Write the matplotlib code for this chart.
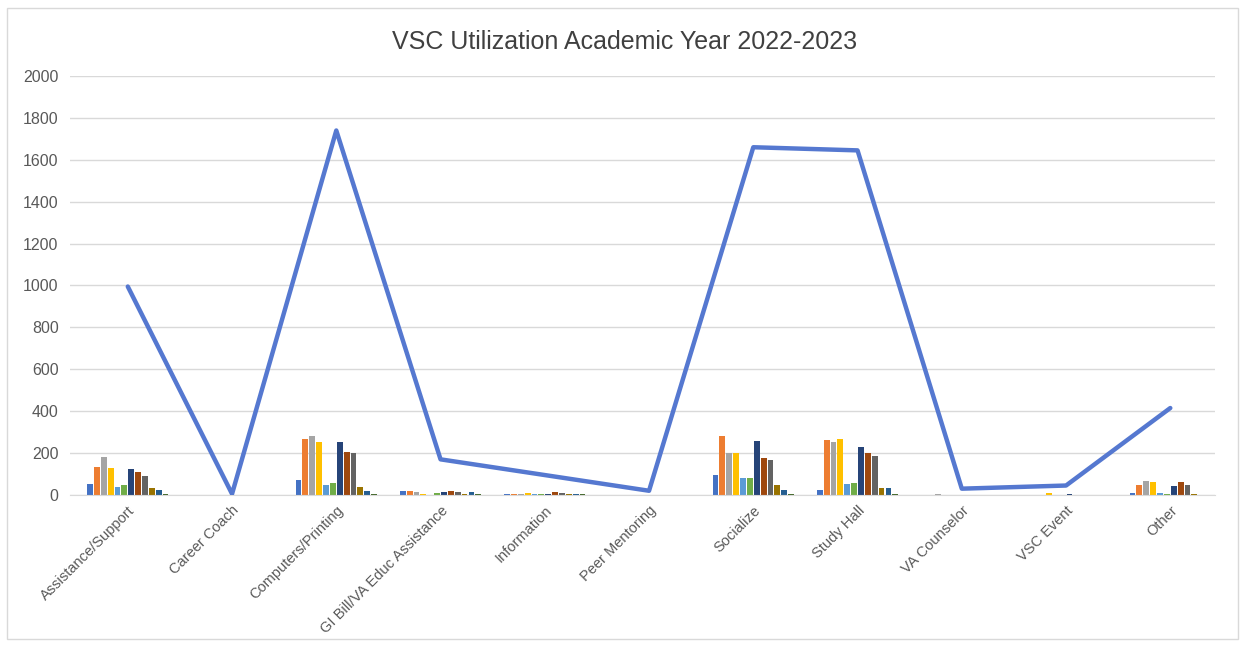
import matplotlib.pyplot as plt
import numpy as np

plt.rcParams['font.family'] = ['Liberation Sans', 'DejaVu Sans']

categories = ['Assistance/Support', 'Career Coach', 'Computers/Printing',
              'GI Bill/VA Educ Assistance', 'Information', 'Peer Mentoring',
              'Socialize', 'Study Hall', 'VA Counselor', 'VSC Event', 'Other']

# monthly counts per category (12 series)
months = ['Aug', 'Sep', 'Oct', 'Nov', 'Dec', 'Jan', 'Feb', 'Mar', 'Apr', 'May', 'Jun', 'Jul']
counts = {
    'Aug': [52, 0, 71, 20, 5, 1, 95, 24, 0, 0, 8],
    'Sep': [133, 0, 267, 18, 6, 2, 281, 262, 0, 0, 48],
    'Oct': [183, 0, 281, 15, 5, 1, 200, 254, 3, 0, 67],
    'Nov': [128, 0, 254, 5, 8, 0, 202, 267, 0, 10, 63],
    'Dec': [38, 0, 48, 0, 3, 1, 79, 52, 0, 0, 8],
    'Jan': [48, 0, 57, 10, 5, 1, 79, 59, 0, 0, 3],
    'Feb': [124, 0, 254, 12, 4, 2, 257, 230, 0, 5, 45],
    'Mar': [110, 0, 206, 18, 12, 1, 178, 202, 0, 0, 63],
    'Apr': [90, 0, 200, 15, 8, 2, 167, 186, 0, 0, 48],
    'May': [33, 0, 38, 3, 5, 0, 48, 33, 0, 0, 3],
    'Jun': [24, 0, 20, 15, 6, 0, 24, 33, 0, 0, 0],
    'Jul': [3, 0, 5, 5, 3, 0, 3, 5, 0, 0, 0],
}
totals = [995, 5, 1740, 170, 95, 20, 1660, 1645, 30, 45, 415]

colors = ['#4472C4', '#ED7D31', '#A5A5A5', '#FFC000', '#5B9BD5', '#70AD47',
          '#264478', '#9E480E', '#636363', '#997300', '#255E91', '#43682B']

fig = plt.figure(figsize=(12.45, 6.47), dpi=100)
fig.patch.set_facecolor('white')
ax = fig.add_axes([0.056, 0.235, 0.92, 0.6475])

x = np.arange(len(categories))
group_w = 0.79
bw = group_w / len(months)
for i, m in enumerate(months):
    offs = -group_w / 2 + bw * (i + 0.5)
    ax.bar(x + offs, counts[m], width=bw * 0.85, color=colors[i], zorder=2)

ax.plot(x, totals, color='#5578D0', lw=3.2, zorder=3, solid_capstyle='round')

ax.set_xlim(-0.557, len(categories) - 0.57)
ax.set_ylim(0, 2000)
ax.set_yticks(range(0, 2001, 200))
ax.set_xticks(x)
ax.set_xticklabels(categories, rotation=45, ha='right', rotation_mode='anchor',
                   fontsize=10.5, color='#595959')
ax.tick_params(axis='y', labelsize=11.5, labelcolor='#595959', length=0, pad=8)
ax.tick_params(axis='x', length=0, pad=6)
ax.grid(axis='y', color='#D9D9D9', lw=1, zorder=0)
for s in ['top', 'right', 'left']:
    ax.spines[s].set_visible(False)
ax.spines['bottom'].set_color('#D9D9D9')

fig.text(0.502, 0.935, 'VSC Utilization Academic Year 2022-2023', ha='center',
         va='center', fontsize=18, color='#404040')

# outer chart border
fig.add_artist(plt.Rectangle((0.006, 0.012), 0.988, 0.976, transform=fig.transFigure,
                             fill=False, edgecolor='#D9D9D9', lw=1))

fig.savefig('out.png', dpi=100)
